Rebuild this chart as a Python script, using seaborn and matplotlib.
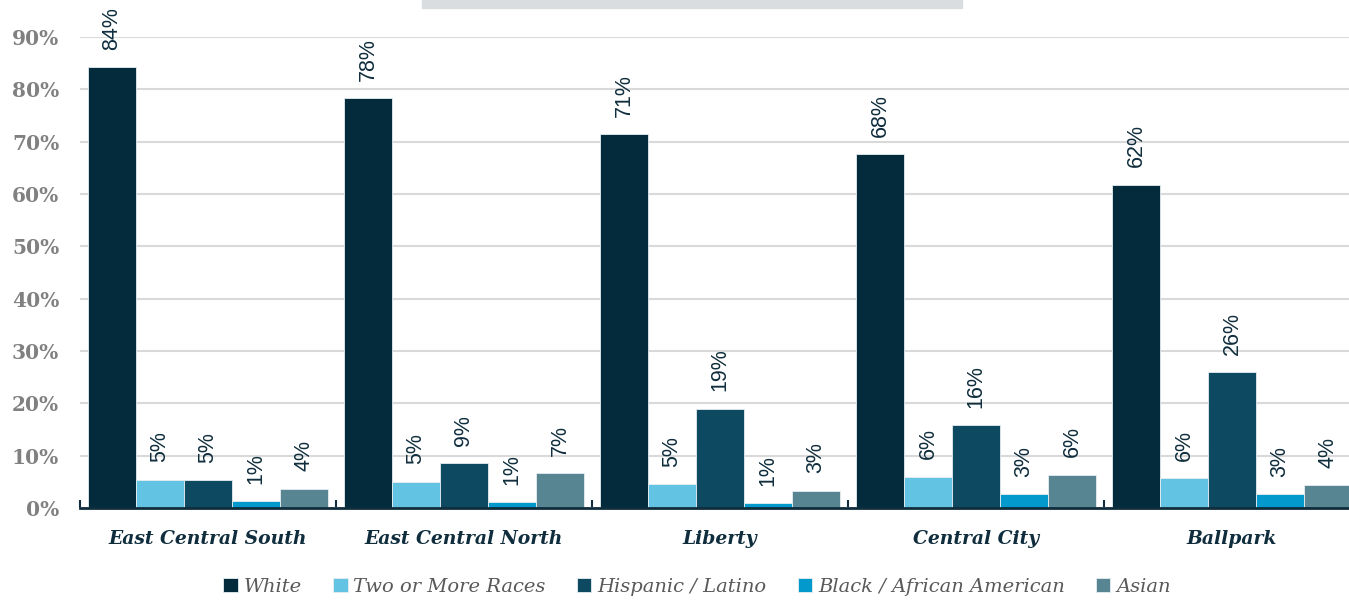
import matplotlib
matplotlib.use('Agg')
import matplotlib.pyplot as plt
from matplotlib.patches import Rectangle
from matplotlib.ticker import FuncFormatter
import numpy as np
import pandas as pd
import seaborn as sns

# 数据
areas = ['East Central South', 'East Central North', 'Liberty', 'Central City', 'Ballpark']
races = ['White', 'Two or More Races', 'Hispanic / Latino', 'Black / African American', 'Asian']
white = [84.2, 78.3, 71.4, 67.6, 61.8]
two_or_more = [5.4, 5.0, 4.6, 6.0, 5.7]
hispanic = [5.3, 8.6, 19.0, 15.8, 25.9]
black = [1.3, 1.1, 0.9, 2.6, 2.6]
asian = [3.7, 6.7, 3.3, 6.4, 4.3]
colors = ['#032b3c', '#63c3e3', '#0d4a62', '#0399cd', '#578591']

series = [white, two_or_more, hispanic, black, asian]
df = pd.DataFrame({
    'area': areas * len(races),
    'race': [r for r in races for _ in areas],
    'pct': [v for s in series for v in s],
})

sns.set_theme(style='white')
dark = '#0f2d3c'

fig = plt.figure(figsize=(13.49, 6.01), dpi=100)
ax = fig.add_axes([80 / 1349, 93 / 601, 1280 / 1349, 471 / 601])

sns.barplot(data=df, x='area', y='pct', hue='race', order=areas, hue_order=races,
            palette=colors, saturation=1, width=0.9375, edgecolor='#e6eef1',
            linewidth=0.6, ax=ax, legend=True)

# 柱顶标签
for cont in ax.containers:
    ax.bar_label(cont, labels=[f'{v:.0f}%' for v in cont.datavalues], rotation=90,
                 padding=12.5, fontsize=15.5, color=dark, family='Liberation Sans',
                 clip_on=False)

ax.set_xlim(-0.5, 4.5)
ax.set_ylim(0, 90)
ax.set_yticks(range(0, 91, 10))
ax.yaxis.set_major_formatter(FuncFormatter(lambda v, p: f'{v:.0f}%'))
ax.grid(axis='y', color='#d9d9d9', linewidth=1.5)
ax.set_axisbelow(True)
ax.set_xlabel('')
ax.set_ylabel('')

for side in ['left', 'right', 'top']:
    ax.spines[side].set_visible(False)
ax.spines['bottom'].set_color(dark)
ax.spines['bottom'].set_linewidth(2)

# 组之间的小刻度
ax.set_xticks([i - 0.5 for i in range(6)], minor=True)
ax.tick_params(axis='x', which='major', bottom=True, length=0, pad=16)
ax.tick_params(axis='x', which='minor', bottom=True, direction='in', length=6,
               width=1.5, color=dark)
ax.tick_params(axis='y', length=0, pad=15)

for lbl in ax.get_xticklabels():
    lbl.set_family('DejaVu Serif')
    lbl.set_fontweight('bold')
    lbl.set_fontstyle('italic')
    lbl.set_fontsize(13.5)
    lbl.set_color(dark)
for lbl in ax.get_yticklabels():
    lbl.set_family('DejaVu Serif')
    lbl.set_fontweight('bold')
    lbl.set_fontsize(14.5)
    lbl.set_color('#808080')

# 图例
handles, labels = ax.get_legend_handles_labels()
ax.get_legend().remove()
leg = fig.legend(handles, labels, loc='center', bbox_to_anchor=(697 / 1349, 1 - 587 / 601),
                 ncol=5, frameon=False, handlelength=0.75, handleheight=0.75,
                 handletextpad=0.3, columnspacing=1.6,
                 prop={'family': 'DejaVu Serif', 'style': 'italic', 'size': 14})
for t in leg.get_texts():
    t.set_color('#595959')

# 顶部灰色条
fig.patches.append(Rectangle((422 / 1349, 1 - 8 / 601), 540 / 1349, 8 / 601,
                             transform=fig.transFigure, color='#d9dde0', zorder=0))

fig.savefig('out.png', dpi=100)
